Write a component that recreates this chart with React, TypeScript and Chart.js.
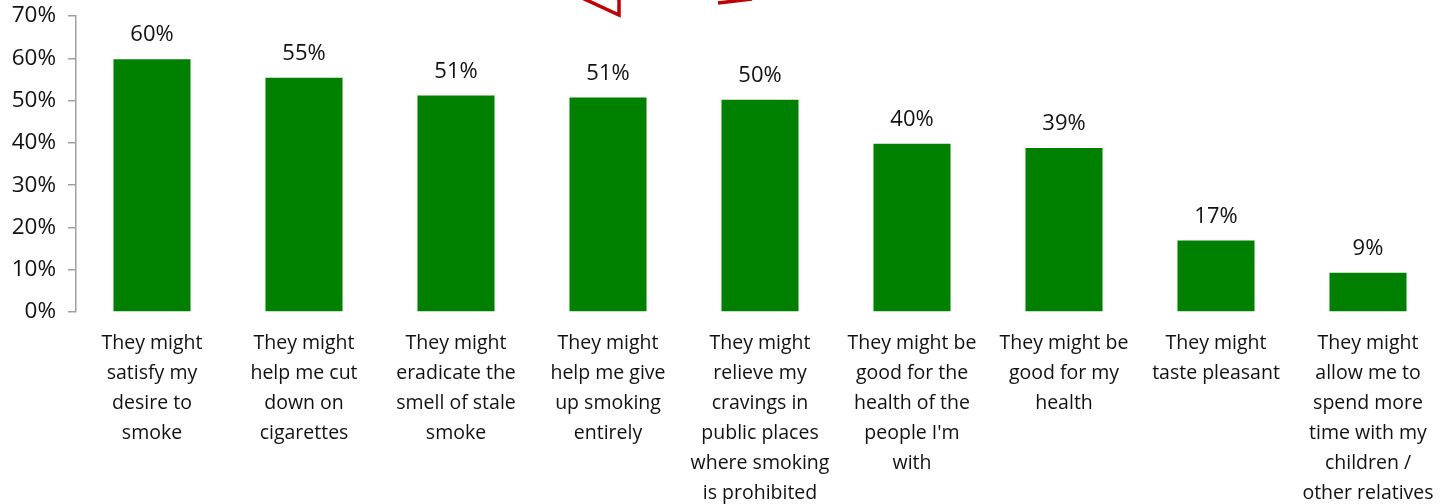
import React, { useEffect, useRef } from "react";
import { Chart, registerables } from "chart.js";

Chart.register(...registerables);

const categories: string[][] = [
  ["They might", "satisfy my", "desire to", "smoke"],
  ["They might", "help me cut", "down on", "cigarettes"],
  ["They might", "eradicate the", "smell of stale", "smoke"],
  ["They might", "help me give", "up smoking", "entirely"],
  ["They might", "relieve my", "cravings in", "public places", "where smoking", "is prohibited"],
  ["They might be", "good for the", "health of the", "people I'm", "with"],
  ["They might be", "good for my", "health"],
  ["They might", "taste pleasant"],
  ["They might", "allow me to", "spend more", "time with my", "children /", "other relatives"],
];

const values: number[] = [59.8, 55.4, 51.2, 50.7, 50.2, 39.8, 38.8, 16.9, 9.3];

const yTicks: number[] = [0, 10, 20, 30, 40, 50, 60, 70];

const FONT = "'Open Sans', 'DejaVu Sans', sans-serif";

const valueLabels = {
  id: "valueLabels",
  afterDatasetsDraw(chart: any) {
    const ctx = chart.ctx;
    const meta = chart.getDatasetMeta(0);
    ctx.save();
    ctx.fillStyle = "#111111";
    ctx.font = `22px ${FONT}`;
    ctx.textAlign = "center";
    ctx.textBaseline = "middle";
    meta.data.forEach((bar: any, i: number) => {
      ctx.fillText(Math.round(values[i]) + "%", bar.x, bar.y - 24);
    });
    ctx.restore();
  },
};

const decoration = {
  id: "decoration",
  afterDraw(chart: any) {
    const ctx = chart.ctx;
    ctx.save();
    ctx.strokeStyle = "#c00000";
    ctx.lineWidth = 3.5;
    ctx.lineJoin = "miter";
    ctx.beginPath();
    ctx.moveTo(580, -3);
    ctx.lineTo(619, 15);
    ctx.lineTo(619, -3);
    ctx.stroke();
    ctx.beginPath();
    ctx.moveTo(718, 3);
    ctx.lineTo(752, -1);
    ctx.stroke();
    ctx.restore();
  },
};

export default function App() {
  const ref = useRef<HTMLCanvasElement | null>(null);
  useEffect(() => {
    if (!ref.current) return;
    const chart = new Chart(ref.current, {
      type: "bar",
      data: {
        labels: categories,
        datasets: [
          {
            data: values,
            backgroundColor: "#008000",
            barPercentage: 0.507,
            categoryPercentage: 1,
          },
        ],
      },
      options: {
        animation: false,
        responsive: false,
        maintainAspectRatio: false,
        layout: { padding: { top: 16, right: 7, left: 0, bottom: 0 } },
        plugins: { legend: { display: false }, tooltip: { enabled: false } },
        scales: {
          x: {
            grid: { display: false },
            border: { display: false },
            ticks: {
              color: "#111111",
              font: { family: FONT, size: 19.5, lineHeight: 1.54 },
              padding: 8,
              maxRotation: 0,
              autoSkip: false,
            },
            afterFit(scale: any) {
              scale.height = 192;
              scale.paddingLeft = 0;
              scale.paddingRight = 0;
            },
          },
          y: {
            min: 0,
            max: 70,
            afterBuildTicks(scale: any) {
              scale.ticks = yTicks.map((v) => ({ value: v }));
            },
            grid: {
              drawOnChartArea: false,
              drawTicks: true,
              tickLength: 8,
              color: "#a0a0a0",
              lineWidth: 1.5,
            },
            border: { display: true, color: "#a0a0a0", width: 1.5 },
            ticks: {
              color: "#111111",
              font: { family: FONT, size: 22.5 },
              padding: 12,
              callback: (v: any) => v + "%",
            },
            afterFit(scale: any) {
              scale.width = 76;
              scale.paddingTop = 0;
              scale.paddingBottom = 0;
            },
          },
        },
      },
      plugins: [valueLabels, decoration],
    });
    return () => chart.destroy();
  }, []);
  return (
    <div style={{ position: "fixed", left: 0, top: 0, width: 1451, height: 504, background: "#fff" }}>
      <canvas ref={ref} width={1451} height={504} style={{ width: 1451, height: 504 }} />
    </div>
  );
}
